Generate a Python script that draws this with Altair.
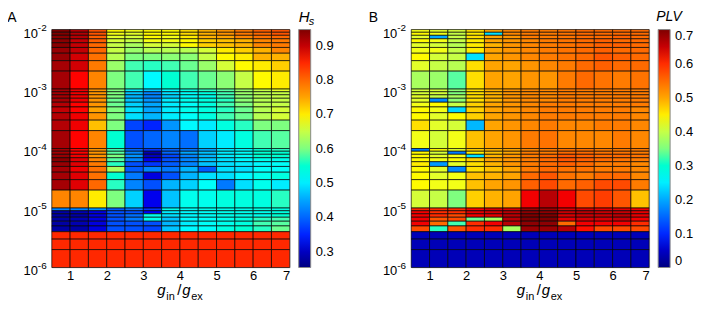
import altair as alt
import pandas as pd

# ---------------- data ----------------
X_EDGES = [0.5, 1.0, 1.5, 2.0, 2.5, 3.0, 3.5, 4.0, 4.5, 5.0, 5.5, 6.0, 6.5, 7.0]
D_EDGES = [1e-6, 2e-6, 3e-6, 4e-6, 5e-6, 6e-6, 7e-6, 8e-6, 9e-6,
           1e-5, 2e-5, 3e-5, 4e-5, 5e-5, 6e-5, 7e-5, 8e-5, 9e-5,
           1e-4, 2e-4, 3e-4, 4e-4, 5e-4, 6e-4, 7e-4, 8e-4, 9e-4,
           1e-3, 2e-3, 3e-3, 4e-3, 5e-3, 6e-3, 7e-3, 8e-3, 9e-3,
           1e-2]
X_TICKS = [1, 2, 3, 4, 5, 6, 7]
D_TICKS = [1e-6, 1e-5, 1e-4, 1e-3, 1e-2]
D_TICK_BASE = ["10", "10", "10", "10", "10"]
D_TICK_EXP = ["-6", "-5", "-4", "-3", "-2"]
HS_TICKS = [0.3, 0.4, 0.5, 0.6, 0.7, 0.8, 0.9]
PLV_TICKS = [0, 0.1, 0.2, 0.3, 0.4, 0.5, 0.6, 0.7]
HS_DOMAIN = [0.254, 0.947]
PLV_DOMAIN = [0.0, 0.7]

# Panel A: H_s, rows listed from top (D = 9e-3..1e-2) to bottom (D = 1e-6..2e-6)
HS_ROWS = [
    [0.945, 0.91, 0.82, 0.69, 0.68, 0.69, 0.69, 0.71, 0.74, 0.76, 0.78, 0.81, 0.82],
    [0.945, 0.91, 0.82, 0.68, 0.67, 0.69, 0.69, 0.71, 0.74, 0.76, 0.78, 0.80, 0.82],
    [0.94, 0.91, 0.81, 0.67, 0.66, 0.69, 0.68, 0.70, 0.74, 0.75, 0.77, 0.79, 0.80],
    [0.94, 0.90, 0.81, 0.66, 0.65, 0.68, 0.68, 0.69, 0.72, 0.73, 0.74, 0.77, 0.78],
    [0.94, 0.90, 0.80, 0.65, 0.63, 0.66, 0.66, 0.69, 0.72, 0.73, 0.74, 0.77, 0.78],
    [0.93, 0.90, 0.80, 0.65, 0.62, 0.64, 0.64, 0.64, 0.66, 0.70, 0.72, 0.74, 0.77],
    [0.93, 0.89, 0.79, 0.64, 0.60, 0.60, 0.61, 0.61, 0.65, 0.69, 0.70, 0.74, 0.74],
    [0.92, 0.89, 0.78, 0.62, 0.57, 0.56, 0.57, 0.59, 0.62, 0.66, 0.69, 0.70, 0.72],
    [0.92, 0.86, 0.77, 0.60, 0.57, 0.51, 0.55, 0.57, 0.59, 0.61, 0.65, 0.69, 0.70],
    [0.92, 0.87, 0.76, 0.60, 0.50, 0.47, 0.51, 0.54, 0.56, 0.58, 0.62, 0.65, 0.67],
    [0.92, 0.87, 0.76, 0.60, 0.47, 0.43, 0.49, 0.52, 0.54, 0.57, 0.62, 0.64, 0.65],
    [0.92, 0.87, 0.76, 0.60, 0.46, 0.43, 0.48, 0.52, 0.53, 0.57, 0.61, 0.64, 0.65],
    [0.92, 0.87, 0.76, 0.59, 0.47, 0.44, 0.50, 0.53, 0.54, 0.56, 0.61, 0.64, 0.65],
    [0.91, 0.86, 0.76, 0.59, 0.48, 0.45, 0.50, 0.52, 0.54, 0.57, 0.60, 0.64, 0.65],
    [0.90, 0.86, 0.75, 0.60, 0.49, 0.45, 0.50, 0.53, 0.54, 0.56, 0.59, 0.64, 0.66],
    [0.91, 0.87, 0.76, 0.60, 0.49, 0.46, 0.50, 0.52, 0.54, 0.57, 0.59, 0.64, 0.66],
    [0.91, 0.87, 0.73, 0.60, 0.37, 0.35, 0.44, 0.51, 0.50, 0.54, 0.56, 0.60, 0.60],
    [0.92, 0.86, 0.77, 0.55, 0.38, 0.40, 0.43, 0.41, 0.48, 0.50, 0.54, 0.57, 0.58],
    [0.92, 0.86, 0.76, 0.57, 0.40, 0.36, 0.40, 0.42, 0.45, 0.50, 0.51, 0.55, 0.56],
    [0.92, 0.86, 0.76, 0.58, 0.43, 0.29, 0.40, 0.45, 0.47, 0.50, 0.52, 0.55, 0.55],
    [0.93, 0.87, 0.76, 0.60, 0.44, 0.30, 0.37, 0.43, 0.46, 0.50, 0.52, 0.55, 0.55],
    [0.94, 0.88, 0.77, 0.58, 0.43, 0.33, 0.38, 0.43, 0.47, 0.49, 0.51, 0.53, 0.53],
    [0.93, 0.88, 0.78, 0.56, 0.38, 0.36, 0.39, 0.43, 0.47, 0.49, 0.50, 0.51, 0.52],
    [0.92, 0.87, 0.79, 0.63, 0.39, 0.43, 0.42, 0.46, 0.39, 0.49, 0.49, 0.52, 0.52],
    [0.92, 0.88, 0.79, 0.55, 0.42, 0.32, 0.38, 0.46, 0.49, 0.49, 0.51, 0.53, 0.54],
    [0.92, 0.88, 0.80, 0.56, 0.43, 0.38, 0.46, 0.48, 0.52, 0.42, 0.49, 0.53, 0.50],
    [0.77, 0.77, 0.70, 0.60, 0.48, 0.33, 0.47, 0.53, 0.53, 0.54, 0.54, 0.54, 0.56],
    [0.43, 0.43, 0.44, 0.39, 0.42, 0.36, 0.53, 0.52, 0.53, 0.53, 0.53, 0.54, 0.54],
    [0.28, 0.29, 0.32, 0.38, 0.38, 0.34, 0.50, 0.51, 0.52, 0.53, 0.53, 0.53, 0.54],
    [0.28, 0.28, 0.32, 0.38, 0.41, 0.53, 0.49, 0.51, 0.52, 0.53, 0.53, 0.53, 0.55],
    [0.28, 0.29, 0.32, 0.38, 0.42, 0.53, 0.47, 0.51, 0.52, 0.53, 0.54, 0.56, 0.57],
    [0.28, 0.29, 0.32, 0.38, 0.38, 0.38, 0.46, 0.50, 0.52, 0.53, 0.54, 0.57, 0.58],
    [0.28, 0.28, 0.32, 0.38, 0.38, 0.37, 0.47, 0.51, 0.52, 0.54, 0.55, 0.56, 0.59],
    [0.85, 0.85, 0.85, 0.85, 0.85, 0.85, 0.85, 0.85, 0.85, 0.85, 0.85, 0.85, 0.85],
    [0.85, 0.85, 0.85, 0.85, 0.85, 0.85, 0.85, 0.85, 0.85, 0.85, 0.85, 0.85, 0.85],
    [0.85, 0.85, 0.85, 0.85, 0.85, 0.85, 0.85, 0.85, 0.85, 0.85, 0.85, 0.85, 0.85],
]

# Panel B: PLV, rows listed from top to bottom
PLV_ROWS = [
    [0.43, 0.42, 0.41, 0.46, 0.50, 0.52, 0.53, 0.53, 0.54, 0.55, 0.55, 0.55, 0.55],
    [0.44, 0.43, 0.40, 0.45, 0.24, 0.52, 0.53, 0.53, 0.54, 0.55, 0.55, 0.55, 0.55],
    [0.42, 0.20, 0.40, 0.46, 0.50, 0.51, 0.53, 0.53, 0.54, 0.55, 0.55, 0.56, 0.55],
    [0.44, 0.43, 0.40, 0.45, 0.50, 0.51, 0.52, 0.53, 0.54, 0.55, 0.56, 0.55, 0.55],
    [0.42, 0.41, 0.39, 0.45, 0.49, 0.51, 0.52, 0.53, 0.54, 0.55, 0.56, 0.56, 0.55],
    [0.43, 0.43, 0.40, 0.45, 0.50, 0.51, 0.52, 0.53, 0.54, 0.55, 0.56, 0.55, 0.55],
    [0.44, 0.41, 0.40, 0.24, 0.50, 0.51, 0.52, 0.53, 0.54, 0.55, 0.57, 0.56, 0.55],
    [0.42, 0.40, 0.39, 0.46, 0.50, 0.50, 0.51, 0.52, 0.53, 0.55, 0.56, 0.55, 0.55],
    [0.38, 0.37, 0.33, 0.46, 0.50, 0.50, 0.51, 0.51, 0.53, 0.55, 0.54, 0.53, 0.54],
    [0.41, 0.41, 0.36, 0.46, 0.49, 0.51, 0.52, 0.52, 0.53, 0.53, 0.53, 0.53, 0.53],
    [0.41, 0.41, 0.35, 0.46, 0.49, 0.51, 0.52, 0.52, 0.53, 0.53, 0.53, 0.53, 0.53],
    [0.42, 0.40, 0.38, 0.46, 0.49, 0.51, 0.52, 0.52, 0.53, 0.53, 0.53, 0.53, 0.53],
    [0.42, 0.18, 0.36, 0.46, 0.49, 0.51, 0.52, 0.52, 0.53, 0.53, 0.53, 0.53, 0.53],
    [0.43, 0.44, 0.40, 0.47, 0.50, 0.51, 0.52, 0.53, 0.53, 0.53, 0.53, 0.53, 0.53],
    [0.44, 0.43, 0.23, 0.47, 0.50, 0.51, 0.52, 0.53, 0.53, 0.53, 0.53, 0.53, 0.52],
    [0.44, 0.42, 0.44, 0.47, 0.50, 0.51, 0.52, 0.53, 0.53, 0.53, 0.53, 0.53, 0.52],
    [0.46, 0.42, 0.41, 0.21, 0.50, 0.51, 0.52, 0.53, 0.52, 0.52, 0.53, 0.53, 0.52],
    [0.43, 0.41, 0.43, 0.48, 0.50, 0.51, 0.53, 0.54, 0.52, 0.52, 0.52, 0.53, 0.52],
    [0.17, 0.44, 0.42, 0.47, 0.49, 0.50, 0.52, 0.53, 0.54, 0.54, 0.53, 0.53, 0.53],
    [0.44, 0.41, 0.17, 0.45, 0.48, 0.50, 0.53, 0.53, 0.55, 0.55, 0.54, 0.54, 0.53],
    [0.44, 0.42, 0.43, 0.24, 0.49, 0.51, 0.53, 0.55, 0.57, 0.56, 0.55, 0.55, 0.54],
    [0.44, 0.43, 0.44, 0.47, 0.50, 0.51, 0.53, 0.55, 0.57, 0.56, 0.55, 0.54, 0.53],
    [0.45, 0.19, 0.42, 0.46, 0.49, 0.51, 0.53, 0.55, 0.56, 0.55, 0.53, 0.53, 0.52],
    [0.44, 0.42, 0.18, 0.46, 0.48, 0.50, 0.53, 0.55, 0.54, 0.54, 0.53, 0.53, 0.52],
    [0.44, 0.42, 0.43, 0.48, 0.49, 0.50, 0.55, 0.57, 0.54, 0.53, 0.55, 0.55, 0.52],
    [0.44, 0.43, 0.43, 0.48, 0.50, 0.51, 0.56, 0.58, 0.55, 0.56, 0.58, 0.58, 0.53],
    [0.41, 0.40, 0.35, 0.47, 0.49, 0.50, 0.62, 0.66, 0.62, 0.58, 0.59, 0.57, 0.48],
    [0.60, 0.60, 0.60, 0.62, 0.64, 0.64, 0.68, 0.68, 0.64, 0.64, 0.63, 0.63, 0.62],
    [0.62, 0.60, 0.60, 0.63, 0.64, 0.66, 0.69, 0.69, 0.65, 0.66, 0.65, 0.65, 0.63],
    [0.62, 0.60, 0.58, 0.62, 0.63, 0.66, 0.70, 0.70, 0.64, 0.65, 0.65, 0.66, 0.63],
    [0.62, 0.57, 0.58, 0.34, 0.38, 0.66, 0.70, 0.70, 0.63, 0.64, 0.64, 0.65, 0.62],
    [0.62, 0.55, 0.32, 0.60, 0.62, 0.66, 0.69, 0.69, 0.55, 0.62, 0.62, 0.62, 0.60],
    [0.58, 0.31, 0.57, 0.60, 0.60, 0.38, 0.68, 0.68, 0.66, 0.61, 0.58, 0.58, 0.58],
    [0.04, 0.04, 0.04, 0.04, 0.04, 0.04, 0.04, 0.04, 0.04, 0.04, 0.04, 0.04, 0.04],
    [0.04, 0.04, 0.04, 0.04, 0.04, 0.04, 0.04, 0.04, 0.04, 0.04, 0.04, 0.04, 0.04],
    [0.04, 0.04, 0.04, 0.04, 0.04, 0.04, 0.04, 0.04, 0.04, 0.04, 0.04, 0.04, 0.04],
]

JET = ["#00007F", "#0000FF", "#007FFF", "#00FFFF", "#7FFF7F",
       "#FFFF00", "#FF7F00", "#FF0000", "#7F0000"]

FONT = "Liberation Sans"
W = 239
H = 239

Y_SCALE = alt.Scale(type="log", domain=[1e-6, 1e-2], nice=False)


def grid_frame(rows):
    recs = []
    n = len(rows)
    for i, row in enumerate(rows):
        r = n - 1 - i
        for c, v in enumerate(row):
            recs.append({"x": X_EDGES[c], "x2": X_EDGES[c + 1],
                         "y": D_EDGES[r], "y2": D_EDGES[r + 1], "v": v})
    return pd.DataFrame(recs)


TICK_DF = pd.DataFrame({"t": D_TICKS, "base": D_TICK_BASE, "exp": D_TICK_EXP})


def txt(s, x, y, size=14, style="normal", align="left", baseline="alphabetic"):
    return alt.Chart(alt.Data(values=[{"k": 0}])).mark_text(
        text=s, font=FONT, fontSize=size, fontStyle=style, align=align,
        baseline=baseline, color="black"
    ).encode(x=alt.value(x), y=alt.value(y))


def ylabels():
    base = alt.Chart(TICK_DF).mark_text(
        font=FONT, fontSize=13, align="right", baseline="middle", dy=4, color="black"
    ).encode(y=alt.Y("t:Q", scale=Y_SCALE, axis=None), x=alt.value(-14), text="base:N")
    exp = alt.Chart(TICK_DF).mark_text(
        font=FONT, fontSize=10, align="left", baseline="middle", dy=-2, color="black"
    ).encode(y=alt.Y("t:Q", scale=Y_SCALE, axis=None), x=alt.value(-14), text="exp:N")
    return [base, exp]


def xtitle():
    return [
        txt("g", 106, 267, 15, "italic"),
        txt("in", 115, 272, 11),
        txt("/", 126, 267, 15),
        txt("g", 131, 267, 15, "italic"),
        txt("ex", 140, 272, 11),
    ]


def panel(rows, domain, ticks, show_d_title, extra):
    df = grid_frame(rows)
    heat = alt.Chart(df).mark_rect(
        stroke="black", strokeWidth=0.8, strokeOpacity=0.85
    ).encode(
        x=alt.X("x:Q", scale=alt.Scale(domain=[0.5, 7.0], nice=False, zero=False),
                axis=alt.Axis(values=X_TICKS, ticks=False, domain=False, grid=False,
                              title=None, labelFontSize=13, labelPadding=2,
                              format="d", labelFont=FONT, labelColor="black")),
        x2="x2:Q",
        y=alt.Y("y:Q", scale=Y_SCALE,
                axis=alt.Axis(values=D_TICKS, labels=False, ticks=False,
                              domain=False, grid=False,
                              title="D" if show_d_title else None,
                              titleFontSize=14, titleFontWeight="normal",
                              titleFont=FONT, titlePadding=32, titleColor="black")),
        y2="y2:Q",
        color=alt.Color("v:Q",
                        scale=alt.Scale(domain=domain, range=JET, zero=False, nice=False),
                        legend=alt.Legend(title=None, orient="right", offset=9,
                                          gradientLength=H, gradientThickness=12,
                                          values=ticks, labelFontSize=13,
                                          labelFont=FONT, labelColor="black",
                                          format=".1~f", labelBaseline="middle",
                                          gradientStrokeColor="#888888",
                                          gradientStrokeWidth=1, labelOffset=5)),
    )
    return alt.layer(heat, *ylabels(), *xtitle(), *extra).properties(width=W, height=H)


panel_a = panel(HS_ROWS, HS_DOMAIN, HS_TICKS, True, [
    txt("A", -40, -12, 14, align="center", baseline="middle"),
    txt("H", 248, -8, 15, "italic"),
    txt("s", 258, -5, 11, "italic"),
])
panel_b = panel(PLV_ROWS, PLV_DOMAIN, PLV_TICKS, False, [
    txt("B", -38, -12, 14, align="center", baseline="middle"),
    txt("PLV", 246, -9, 14, "italic"),
])

chart = alt.hconcat(panel_a, panel_b, spacing=32).resolve_scale(
    color="independent"
).properties(
    padding={"left": -2, "top": 0, "right": 0, "bottom": 0}
).configure_view(
    stroke="#888888", strokeWidth=1
).configure(font=FONT, background="white")

chart.save("out.html", embed_options={"renderer": "svg", "actions": False})
